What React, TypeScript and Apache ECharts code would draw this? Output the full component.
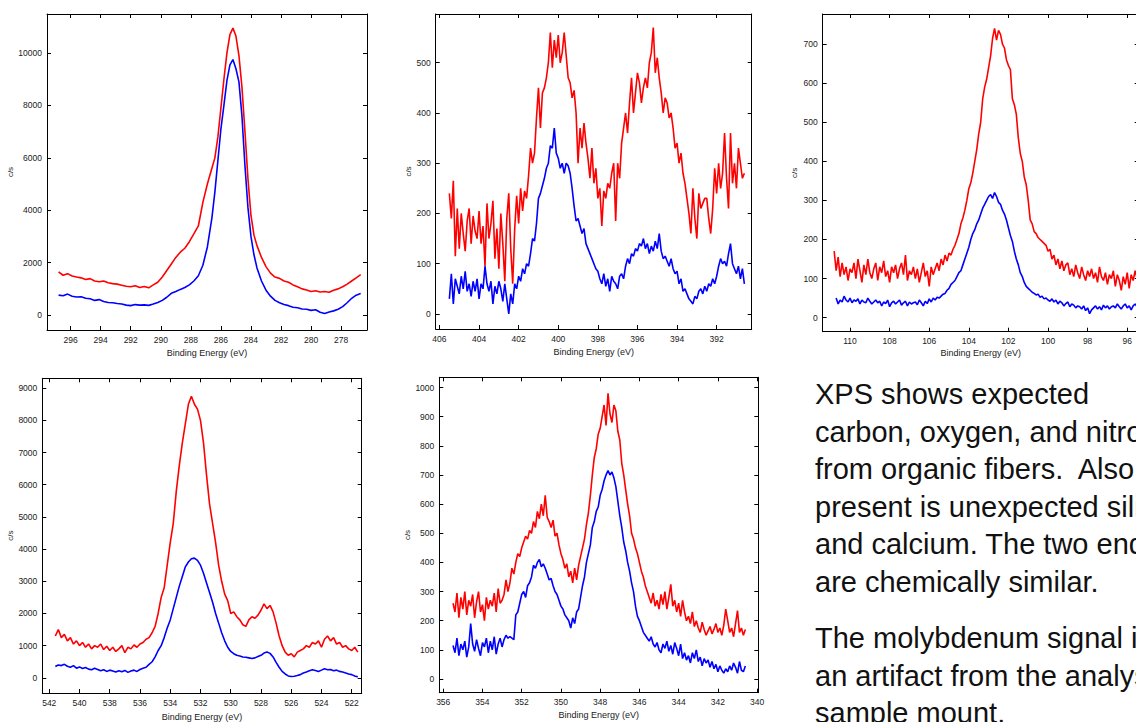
import React, { useEffect, useRef } from "react";
import * as echarts from "echarts";

// ---------- C 1s (top left) ----------
const c1sEnergy = [296.8, 296.5, 296.2, 295.9, 295.6, 295.3, 295.0, 294.7, 294.4, 294.1, 293.8, 293.5, 293.2, 292.9, 292.6, 292.3, 292.0, 291.7, 291.4, 291.1, 290.8, 290.5, 290.2, 289.9, 289.6, 289.3, 289.0, 288.7, 288.4, 288.1, 287.8, 287.5, 287.2, 286.9, 286.6, 286.4, 286.2, 286.0, 285.8, 285.6, 285.4, 285.2, 285.0, 284.8, 284.6, 284.4, 284.2, 284.0, 283.8, 283.6, 283.3, 283.0, 282.7, 282.4, 282.1, 281.8, 281.5, 281.2, 280.9, 280.6, 280.3, 280.0, 279.7, 279.4, 279.1, 278.8, 278.5, 278.2, 277.9, 277.6, 277.3, 277.0, 276.7];
const c1sRed = [1650, 1520, 1580, 1490, 1450, 1420, 1360, 1390, 1300, 1270, 1300, 1230, 1200, 1180, 1140, 1100, 1080, 1120, 1050, 1090, 1040, 1150, 1250, 1450, 1700, 1950, 2200, 2400, 2550, 2800, 3100, 3400, 4300, 5000, 5600, 6000, 6800, 7900, 9000, 10000, 10700, 10950, 10650, 9900, 8700, 7000, 5200, 3800, 3050, 2650, 2200, 1850, 1600, 1450, 1400, 1300, 1250, 1150, 1080, 1000, 960, 900, 930, 880, 900, 870, 950, 1000, 1080, 1180, 1300, 1420, 1540];
const c1sBlue = [760, 740, 800, 720, 690, 700, 640, 620, 560, 590, 520, 480, 470, 440, 420, 380, 360, 400, 380, 390, 370, 420, 480, 560, 680, 830, 900, 980, 1050, 1150, 1300, 1500, 1900, 2600, 3700, 4700, 5900, 7100, 8000, 8950, 9550, 9750, 9400, 8900, 7600, 5700, 4100, 3000, 2300, 1800, 1300, 950, 720, 560, 470, 400, 360, 300, 280, 230, 220, 180, 200, 110, 60, 120, 160, 220, 320, 470, 640, 760, 820];
const c1sXTicks = [296, 294, 292, 290, 288, 286, 284, 282, 280, 278];
const c1sYTicks = [0, 2000, 4000, 6000, 8000, 10000];

// ---------- N 1s (top middle), start 405.5 eV, step 0.1 eV ----------
const n1sStart = 405.5;
const n1sStep = 0.1;
const n1sRed = [
  240, 190, 265, 115, 210, 130, 200, 160, 125, 185,
  210, 140, 195, 165, 150, 205, 140, 175, 95, 220,
  150, 180, 225, 110, 170, 90, 200, 140, 65, 190,
  240, 130, 60, 170, 235, 180, 250, 205, 245, 230,
  275, 330, 300, 320, 390, 450, 370, 440, 450, 470,
  500, 560, 490, 545, 510, 555, 500, 520, 560, 515,
  470, 460, 430, 445, 400, 300, 370, 330, 380, 340,
  310, 270, 330, 260, 290, 230, 250, 175, 245, 230,
  260, 250, 280, 300, 185, 300, 270, 340, 370, 400,
  360, 420, 470, 400, 440, 480, 460, 420, 450, 470,
  450, 500, 520, 570, 480, 510, 470, 440, 400, 430,
  420, 390, 400, 370, 330, 340, 300, 320, 280, 260,
  230, 200, 160, 250, 190, 150, 240, 210, 220, 230,
  230, 190, 160, 210, 290, 240, 300, 250, 280, 360,
  270, 210, 360, 260, 300, 250, 330, 300, 270, 280,
];
const n1sBlue = [
  30, 80, 20, 70, 55, 40, 75, 50, 85, 45,
  60, 35, 65, 45, 70, 30, 60, 50, 95, 60,
  45, 65, 20, 55, 40, 65, 50, 25, 60, 30,
  0, 40, 20, 60, 50, 75, 65, 90, 80, 100,
  95, 120, 150, 145, 180, 230, 240, 255, 270, 290,
  300, 335, 330, 370, 320, 310, 290, 300, 280, 300,
  295, 280, 250, 215, 185, 190, 175, 160, 170, 140,
  130, 120, 110, 100, 90, 85, 70, 60, 80, 55,
  70, 45, 75, 65, 60, 50, 75, 80, 70, 95,
  110, 100, 120, 115, 130, 125, 140, 135, 150, 130,
  140, 120, 135, 125, 145, 130, 160, 125, 110, 115,
  105, 95, 110, 90, 80, 85, 60, 70, 45, 50,
  40, 30, 25, 20, 35, 30, 45, 50, 40, 55,
  45, 60, 55, 70, 60, 75, 95, 110, 100, 105,
  95, 120, 140, 100, 90, 80, 95, 70, 90, 60,
];
const n1sXTicks = [406, 404, 402, 400, 398, 396, 394, 392, 390];
const n1sYTicks = [0, 100, 200, 300, 400, 500];

// ---------- Si 2p (top right), step 0.1 eV ----------
const si2pRedStart = 110.8;
const si2pBlueStart = 110.7;
const si2pStep = 0.1;
const si2pRed = [
  170, 120, 155, 105, 140, 110, 130, 95, 125, 115,
  140, 100, 150, 120, 90, 135, 110, 150, 115, 100,
  125, 140, 95, 130, 115, 145, 105, 120, 90, 130,
  115, 135, 100, 125, 140, 110, 160, 95, 120, 110,
  130, 100, 125, 90, 115, 140, 105, 120, 80, 130,
  110, 125, 140, 120, 150, 135, 160, 145, 165, 160,
  175, 185, 200, 215, 240, 255, 275, 300, 330, 345,
  370, 400, 430, 470, 500, 560, 590, 610, 640, 670,
  715, 740, 710, 735, 725, 700, 690, 660, 645, 635,
  560, 545, 520, 460, 420, 400, 360, 340, 300, 250,
  240, 220, 215, 205, 200, 195, 190, 185, 170, 175,
  150, 160, 135, 150, 125, 145, 120, 135, 140, 110,
  125, 105, 135, 115, 100, 130, 110, 95, 120, 105,
  125, 100, 115, 90, 130, 105, 95, 115, 85, 110,
  100, 120, 80, 110, 95, 70, 105, 85, 115, 75,
  110, 95, 120, 100,
];
const si2pBlue = [
  50, 35, 45, 40, 55, 45, 40, 50, 38, 45,
  42, 48, 35, 45, 40, 38, 50, 42, 35, 40,
  45, 38, 42, 30, 40, 36, 45, 28, 38, 42,
  35, 40, 45, 32, 38, 42, 30, 40, 35, 38,
  40, 33, 45, 38, 30, 42, 36, 48, 40, 50,
  45, 52, 50, 55, 60, 62, 70, 75, 85, 90,
  95, 105, 115, 120, 135, 150, 165, 180, 200, 215,
  225, 240, 250, 265, 280, 290, 300, 310, 315, 305,
  320, 310, 295, 290, 275, 265, 250, 230, 210, 195,
  170, 150, 135, 115, 105, 90, 80, 75, 70, 65,
  62, 58, 60, 52, 55, 48, 50, 45, 42, 48,
  40, 45, 35, 42, 38, 30, 36, 40, 28, 35,
  32, 25, 30, 28, 22, 30, 18, 25, 10, 20,
  25, 30, 22, 28, 20, 32, 25, 30, 22, 28,
  30, 25, 35, 28, 22, 30, 35, 25, 30, 20,
  30, 35, 28,
];
const si2pXTicks = [110, 108, 106, 104, 102, 100, 98, 96];
const si2pYTicks = [0, 100, 200, 300, 400, 500, 600, 700];

// ---------- O 1s (bottom left), start 541.6 eV, step 0.2 eV ----------
const o1sStart = 541.6;
const o1sStep = 0.2;
const o1sRed = [
  1300, 1500, 1250, 1350, 1150, 1250, 1050, 1150, 1000, 1100,
  950, 1050, 900, 1000, 950, 1050, 880, 980, 850, 950,
  820, 900, 1000, 780, 950, 900, 1020, 950, 1050, 1100,
  1200, 1250, 1400, 1600, 2000, 2500, 2800, 3500, 4200, 4800,
  5800, 6600, 7300, 7900, 8500, 8750, 8500, 8350, 8000, 7300,
  6300, 5400, 4800, 4200, 3500, 3000, 2600, 2400, 2000, 2050,
  1900, 1800, 1650, 1600, 1800, 1900, 1850, 1950, 2100, 2300,
  2150, 2250, 2050, 1700, 1300, 1000, 800, 700, 750, 650,
  800, 850, 900, 1000, 950, 1100, 1050, 1150, 950, 1200,
  1300, 1150, 1250, 1050, 1100, 950, 1000, 900, 850, 950,
  800,
];
const o1sBlue = [
  350, 400, 380, 420, 360, 330, 380, 300, 340, 290,
  320, 270, 250, 300, 260, 220, 250, 200, 240, 210,
  180, 220, 190, 230, 170, 210, 240, 200, 260, 300,
  330, 420, 500, 650, 850, 1000, 1250, 1550, 1800, 2150,
  2500, 2850, 3150, 3450, 3600, 3700, 3720, 3650, 3500, 3250,
  2950, 2650, 2350, 2000, 1700, 1400, 1150, 950, 820, 750,
  700, 680, 650, 640, 620, 600, 620, 660, 700, 770,
  800, 760, 650, 480, 330, 200, 120, 60, 40, 50,
  70, 100, 150, 180, 220, 250, 230, 200, 240, 280,
  250, 260, 220, 240, 200, 180, 150, 120, 100, 60,
  30,
];
const o1sXTicks = [542, 540, 538, 536, 534, 532, 530, 528, 526, 524, 522];
const o1sYTicks = [0, 1000, 2000, 3000, 4000, 5000, 6000, 7000, 8000, 9000];

// ---------- Ca 2p (bottom middle), start 355.5 eV, step 0.1 eV ----------
const ca2pStart = 355.5;
const ca2pStep = 0.1;
const ca2pRed = [
  260, 230, 295, 210, 280, 240, 300, 220, 270, 250,
  290, 210, 265, 300, 230, 255, 200, 280, 240, 270,
  250, 295, 230, 310, 260, 270, 290, 340, 300, 330,
  380, 360, 400, 430, 420, 450, 470, 490, 480, 510,
  500, 540, 520, 575, 550, 600, 560, 630, 555, 540,
  520, 545, 490, 500, 460, 430, 410, 380, 395, 350,
  370, 330, 380, 340, 390, 420, 450, 480, 530, 570,
  630, 700, 760, 790, 840, 860, 900, 940, 870, 980,
  910, 880, 940, 920, 850, 820, 740, 700, 650, 600,
  560, 500, 480, 450, 430, 400, 370, 350, 320, 300,
  280, 260, 295, 250, 270, 240, 290, 255, 300, 240,
  280, 325, 250, 270, 230, 260, 215, 270, 230, 200,
  215, 190, 230, 180, 200, 175, 160, 195, 170, 150,
  165, 180, 155, 170, 190, 160, 175, 150, 185, 240,
  200, 160, 175, 145, 190, 235, 160, 175, 150, 170,
];
const ca2pBlue = [
  115, 90, 140, 80, 120, 100, 130, 75, 110, 190,
  120, 95, 135, 105, 80, 125, 110, 140, 90, 130,
  100, 145, 85, 120, 140, 110, 135, 150, 140, 145,
  140, 135, 220, 230, 260, 290, 300, 280, 320, 330,
  350, 390, 380, 400, 410, 385, 395, 380, 360, 340,
  345, 320, 300, 290, 270, 250, 240, 220, 210, 200,
  175, 210, 190, 230, 240, 280, 320, 350, 400, 430,
  460, 520, 540, 575, 590, 630, 650, 680, 700, 715,
  700, 710, 690, 660, 610, 560, 520, 470, 440, 400,
  370, 330, 300, 250, 215, 200, 180, 160, 150, 140,
  130, 145, 120, 110, 125, 100, 90, 120, 105, 130,
  95, 115, 85, 125, 105, 80, 120, 70, 90, 65,
  80, 55, 90, 70, 100, 60, 75, 45, 70, 55,
  65, 40, 60, 35, 50, 25, 45, 30, 20, 35,
  25, 45, 30, 55, 40, 20, 60, 30, 25, 45,
];
const ca2pXTicks = [356, 354, 352, 350, 348, 346, 344, 342, 340];
const ca2pYTicks = [0, 100, 200, 300, 400, 500, 600, 700, 800, 900, 1000];

// ---------- Note text ----------
const noteLines = [
  "XPS shows expected",
  "carbon, oxygen, and nitrogen",
  "from organic fibers.  Also",
  "present is unexpected silicon",
  "and calcium. The two ends",
  "are chemically similar.",
  "The molybdenum signal is",
  "an artifact from the analysis",
  "sample mount.",
];

const xName = "Binding Energy (eV)";
const yName = "c/s";

const fromList = (energy: number[], vals: number[]) =>
  vals.map((v, i) => [energy[i], v]);
const fromStep = (start: number, step: number, vals: number[]) =>
  vals.map((v, i) => [Math.round((start - i * step) * 100) / 100, v]);

const FONT = "'Liberation Sans', Arial, Helvetica, sans-serif";

const panels = [
  {
    grid: { left: 47, top: 14, width: 320, height: 316 },
    xMin: 276.28, xMax: 297.57, yMin: -570, yMax: 11490,
    xTicks: c1sXTicks, yTicks: c1sYTicks,
    red: fromList(c1sEnergy, c1sRed), blue: fromList(c1sEnergy, c1sBlue),
    yNameGap: 29, xNameGap: 18,
  },
  {
    grid: { left: 435.7, top: 14, width: 316, height: 315 },
    xMin: 390.23, xMax: 406.19, yMin: -30, yMax: 597,
    xTicks: n1sXTicks, yTicks: n1sYTicks,
    red: fromStep(n1sStart, n1sStep, n1sRed), blue: fromStep(n1sStart, n1sStep, n1sBlue),
    yNameGap: 22, xNameGap: 18,
  },
  {
    grid: { left: 822.7, top: 14, width: 316, height: 317.7 },
    xMin: 95.42, xMax: 111.38, yMin: -36, yMax: 777,
    xTicks: si2pXTicks, yTicks: si2pYTicks,
    red: fromStep(si2pRedStart, si2pStep, si2pRed), blue: fromStep(si2pBlueStart, si2pStep, si2pBlue),
    yNameGap: 24, xNameGap: 17,
  },
  {
    grid: { left: 42.3, top: 378.3, width: 319.4, height: 317.7 },
    xMin: 521.34, xMax: 542.46, yMin: -471, yMax: 9307,
    xTicks: o1sXTicks, yTicks: o1sYTicks,
    red: fromStep(o1sStart, o1sStep, o1sRed), blue: fromStep(o1sStart, o1sStep, o1sBlue),
    yNameGap: 27, xNameGap: 19,
  },
  {
    grid: { left: 439.3, top: 377.3, width: 319, height: 315.4 },
    xMin: 339.94, xMax: 356.2, yMin: -47, yMax: 1035,
    xTicks: ca2pXTicks, yTicks: ca2pYTicks,
    red: fromStep(ca2pStart, ca2pStep, ca2pRed), blue: fromStep(ca2pStart, ca2pStep, ca2pBlue),
    yNameGap: 27, xNameGap: 18,
  },
];

const plain = (v: number) => String(v);

function buildOption() {
  const grids: any[] = [];
  const xAxes: any[] = [];
  const yAxes: any[] = [];
  const series: any[] = [];
  const lineAxis = { show: true, onZero: false, lineStyle: { color: "#000", width: 1 } };
  const labelStyle = { fontFamily: FONT, color: "#1a1a1a", fontSize: 8.5, formatter: plain };

  panels.forEach((p, i) => {
    grids.push({ ...p.grid, containLabel: false, show: false });
    xAxes.push({
      type: "value", gridIndex: i, position: "bottom", inverse: true,
      min: p.xMin, max: p.xMax,
      axisLine: lineAxis,
      axisTick: { show: true, inside: true, length: 4, customValues: p.xTicks, lineStyle: { color: "#000" } },
      axisLabel: { show: true, customValues: p.xTicks, margin: 5, ...labelStyle },
      splitLine: { show: false },
      name: xName, nameLocation: "middle", nameGap: p.xNameGap,
      nameTextStyle: { fontFamily: FONT, color: "#1a1a1a", fontSize: 9 },
    });
    xAxes.push({
      type: "value", gridIndex: i, position: "top", inverse: true,
      min: p.xMin, max: p.xMax,
      axisLine: lineAxis,
      axisTick: { show: true, inside: true, length: 4, customValues: p.xTicks, lineStyle: { color: "#000" } },
      axisLabel: { show: false },
      splitLine: { show: false },
    });
    yAxes.push({
      type: "value", gridIndex: i, position: "left",
      min: p.yMin, max: p.yMax,
      axisLine: lineAxis,
      axisTick: { show: true, inside: true, length: 4, customValues: p.yTicks, lineStyle: { color: "#000" } },
      axisLabel: { show: true, customValues: p.yTicks, margin: 5, ...labelStyle },
      splitLine: { show: false },
      name: yName, nameLocation: "middle", nameGap: p.yNameGap, nameRotate: 90,
      nameTextStyle: { fontFamily: FONT, color: "#1a1a1a", fontSize: 8 },
    });
    yAxes.push({
      type: "value", gridIndex: i, position: "right",
      min: p.yMin, max: p.yMax,
      axisLine: lineAxis,
      axisTick: { show: true, inside: true, length: 4, customValues: p.yTicks, lineStyle: { color: "#000" } },
      axisLabel: { show: false },
      splitLine: { show: false },
    });
    series.push({
      type: "line", xAxisIndex: 2 * i, yAxisIndex: 2 * i, data: p.red,
      showSymbol: false, symbol: "none", silent: true, clip: true,
      lineStyle: { color: "#ff0000", width: 1.6 }, itemStyle: { color: "#ff0000" },
    });
    series.push({
      type: "line", xAxisIndex: 2 * i, yAxisIndex: 2 * i, data: p.blue,
      showSymbol: false, symbol: "none", silent: true, clip: true,
      lineStyle: { color: "#0000ff", width: 1.6 }, itemStyle: { color: "#0000ff" },
    });
  });

  const graphic = noteLines.map((t, k) => ({
    type: "text",
    x: 815,
    y: k < 6 ? 394 + 37.5 * k : 638 + 37.5 * (k - 6),
    silent: true,
    style: {
      text: t,
      fontSize: 29,
      fontFamily: FONT,
      fill: "#111111",
      verticalAlign: "middle",
      align: "left",
    },
  }));

  return {
    animation: false,
    backgroundColor: "#ffffff",
    grid: grids,
    xAxis: xAxes,
    yAxis: yAxes,
    series,
    graphic,
  };
}

export default function App() {
  const ref = useRef<HTMLDivElement | null>(null);
  useEffect(() => {
    if (!ref.current) return;
    const chart = echarts.init(ref.current, undefined, { renderer: "svg" });
    chart.setOption(buildOption() as any);
    return () => chart.dispose();
  }, []);
  return (
    <div
      style={{
        position: "fixed",
        left: 0,
        top: 0,
        width: 1136,
        height: 722,
        overflow: "hidden",
        background: "#ffffff",
      }}
    >
      <div ref={ref} style={{ width: 1160, height: 722 }} />
    </div>
  );
}
